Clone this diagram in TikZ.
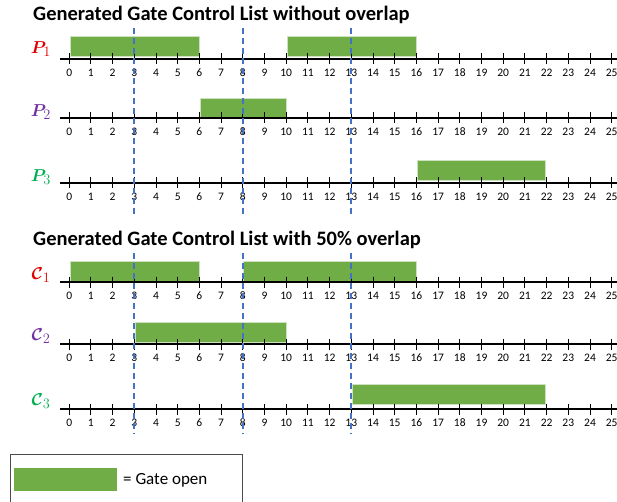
\documentclass[tikz,border=0pt]{standalone}
\usepackage{fontspec}
\setmainfont{Carlito}
\usepackage{amsmath,bm}
\definecolor{gatefill}{HTML}{70AD47}
\definecolor{guideblue}{HTML}{4472C4}
\definecolor{pred}{HTML}{E00000}
\definecolor{ppurple}{HTML}{7030A0}
\definecolor{pgreen}{HTML}{00B050}
\newcommand\tx[1]{69.2+21.7*(#1)}
\newcommand\timeaxis[1]{%
  \draw[axisline] (60,#1) -- (617,#1);
  \foreach \t in {0,...,25}{%
    \draw[tickmark] ({69.2+21.7*\t},{#1-5.5}) -- ++(0,11);
    \node[ticklabel] at ({69.2+21.7*\t},{#1+14}) {\t};
  }%
}
\tikzset{
  gatebar/.style={fill=gatefill, draw=gatefill!35!white, line width=0.7pt},
  axisline/.style={line width=1.2pt},
  tickmark/.style={line width=0.9pt},
  ticklabel/.style={font=\fontsize{11.5}{13}\selectfont, inner sep=0pt},
  guide/.style={guideblue, line width=1.8pt, dash pattern=on 6pt off 4pt},
  titletext/.style={font=\bfseries\fontsize{20.5}{24}\selectfont, anchor=west, inner sep=0pt},
  rowlabel/.style={font=\fontsize{19}{19}\selectfont, inner sep=0pt},
  legendtext/.style={font=\fontsize{17}{20}\selectfont, anchor=west, inner sep=0pt}
}
\begin{document}
\begin{tikzpicture}[x=1pt,y=-1pt]
\useasboundingbox (0,0) rectangle (617,502);
% titles
\node[titletext] (t1) at (33,15) {Generated Gate Control List without overlap};
\node[titletext] (t2) at (33,240) {Generated Gate Control List with 50\% overlap};
% bars section 1
\draw[gatebar] ({\tx{0}+1},36) rectangle ({\tx{6}},56);
\draw[gatebar] ({\tx{10}+1},36) rectangle ({\tx{16}},56);
\draw[gatebar] ({\tx{6}+1},98) rectangle ({\tx{10}},117);
\draw[gatebar] ({\tx{16}+1},160) rectangle ({\tx{22}-1},180);
% bars section 2
\draw[gatebar] ({\tx{0}+1},261) rectangle ({\tx{6}},281);
\draw[gatebar] ({\tx{8}+1},261) rectangle ({\tx{16}},281);
\draw[gatebar] ({\tx{3}+1},322) rectangle ({\tx{10}},342);
\draw[gatebar] ({\tx{13}+1},384) rectangle ({\tx{22}-1},404);
% axes
\timeaxis{59}
\timeaxis{118}
\timeaxis{183}
\timeaxis{282}
\timeaxis{344}
\timeaxis{409}
% row labels
\node[rowlabel, text=pred] (p1) at (41,49) {$\bm{P}_1$};
\node[rowlabel, text=ppurple] (p2) at (41,112) {$\bm{P}_2$};
\node[rowlabel, text=pgreen] (p3) at (41,177) {$\bm{P}_3$};
\node[rowlabel, text=pred] (c1) at (41,275) {$\bm{\mathcal{C}}_1$};
\node[rowlabel, text=ppurple] (c2) at (41,336) {$\bm{\mathcal{C}}_2$};
\node[rowlabel, text=pgreen] (c3) at (41,401) {$\bm{\mathcal{C}}_3$};
% guides
\foreach \g in {3,8,13}{
  \draw[guide] ({\tx{\g}},28) -- ({\tx{\g}},215);
  \draw[guide] ({\tx{\g}},253) -- ({\tx{\g}},434);
}
% legend
\draw[line width=0.8pt, black!70] (10,503) -- (10,454.5) -- (242,454.5) -- (242,503);
\fill[gatefill] (14,468) rectangle (117,491);
\node[legendtext] (leg) at (123,480) {= Gate open};
\end{tikzpicture}
\end{document}
